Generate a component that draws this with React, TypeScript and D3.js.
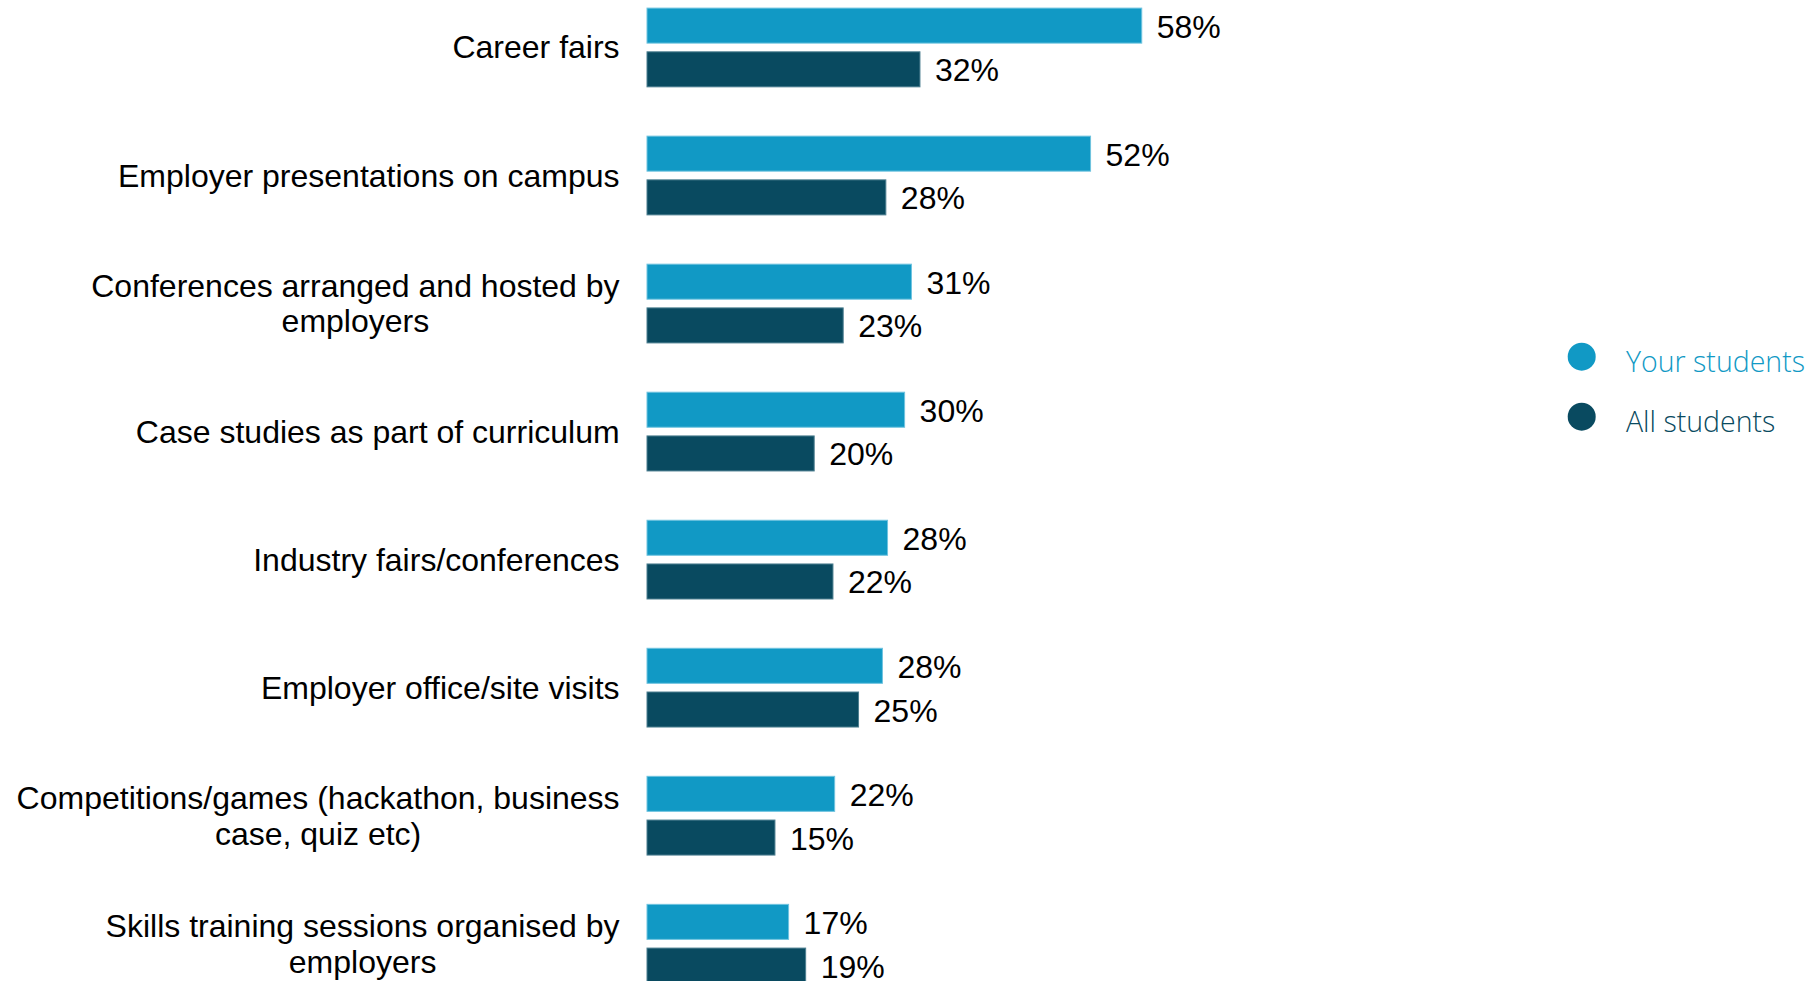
import React from "react";
import * as d3 from "d3";

const categories: string[][] = [
  ["Career fairs"],
  ["Employer presentations on campus"],
  ["Conferences arranged and hosted by", "employers"],
  ["Case studies as part of curriculum"],
  ["Industry fairs/conferences"],
  ["Employer office/site visits"],
  ["Competitions/games (hackathon, business", "case, quiz etc)"],
  ["Skills training sessions organised by", "employers"],
];
const yourStudents = [58, 52, 31, 30.2, 28.2, 27.6, 22, 16.6];
const allStudents = [32, 28, 23, 19.6, 21.8, 24.8, 15, 18.6];
const seriesNames = ["Your students", "All students"];
const seriesColors = ["#1199C5", "#094A60"];

const W = 1816;
const H = 981;
const labelFont = "'Liberation Sans', Arial, sans-serif";
const labelSize = 32;

function measure(text: string): number {
  if (typeof document === "undefined") return text.length * labelSize * 0.5;
  const c = document.createElement("canvas").getContext("2d");
  if (!c) return text.length * labelSize * 0.5;
  c.font = `${labelSize}px 'Liberation Sans', Arial, sans-serif`;
  return c.measureText(text).width;
}

export default function App() {
  const keys = categories.map((c) => c.join(" "));
  const x = d3.scaleLinear().domain([0, 100]).range([647, 647 + 853]);
  const y0 = d3
    .scaleBand<string>()
    .domain(keys)
    .range([8.1, 983.1])
    .paddingInner(0.385)
    .paddingOuter(0);
  const y1 = d3
    .scaleBand<string>()
    .domain(seriesNames)
    .range([0, y0.bandwidth()])
    .paddingInner(0.199)
    .paddingOuter(0);
  const series = [yourStudents, allStudents];
  const lineH = 35.8;
  const labelRight = 619.6;

  return (
    <svg
      width={W}
      height={H}
      style={{ position: "absolute", left: 0, top: 0, background: "#fff", overflow: "hidden" }}
    >
      {keys.map((k, i) => {
        const gy = y0(k)!;
        const cy = gy + y0.bandwidth() / 2;
        const lines = categories[i];
        const maxW = Math.max(...lines.map(measure));
        const cx = labelRight - maxW / 2;
        return (
          <g key={k}>
            <text textAnchor="middle" fontFamily={labelFont} fontSize={labelSize} fill="#000">
              {lines.map((ln, j) => (
                <tspan
                  key={j}
                  x={cx}
                  y={cy + (j - (lines.length - 1) / 2) * lineH}
                  dominantBaseline="central"
                >
                  {ln}
                </tspan>
              ))}
            </text>
            {seriesNames.map((s, si) => {
              const v = series[si][i];
              const by = gy + y1(s)!;
              return (
                <g key={s}>
                  <rect
                    x={x(0)}
                    y={by}
                    width={x(v) - x(0)}
                    height={y1.bandwidth()}
                    fill={seriesColors[si]}
                    stroke={si === 0 ? "#6fc3df" : "#4d7f90"}
                    strokeWidth={1}
                  />
                  <text
                    x={x(v) + 15}
                    y={by + y1.bandwidth() / 2 + 1}
                    dominantBaseline="central"
                    fontFamily={labelFont}
                    fontSize={32}
                    fill="#000"
                  >
                    {Math.round(v) + "%"}
                  </text>
                </g>
              );
            })}
          </g>
        );
      })}
      {seriesNames.map((s, si) => (
        <g key={s}>
          <circle cx={1581.7} cy={356.7 + si * 60} r={14} fill={seriesColors[si]} />
          <text
            x={1626}
            y={371.7 + si * 60}
            fontFamily="'Open Sans', sans-serif"
            fontWeight={300}
            fontSize={28.5}
            fill={seriesColors[si]}
          >
            {s}
          </text>
        </g>
      ))}
    </svg>
  );
}
